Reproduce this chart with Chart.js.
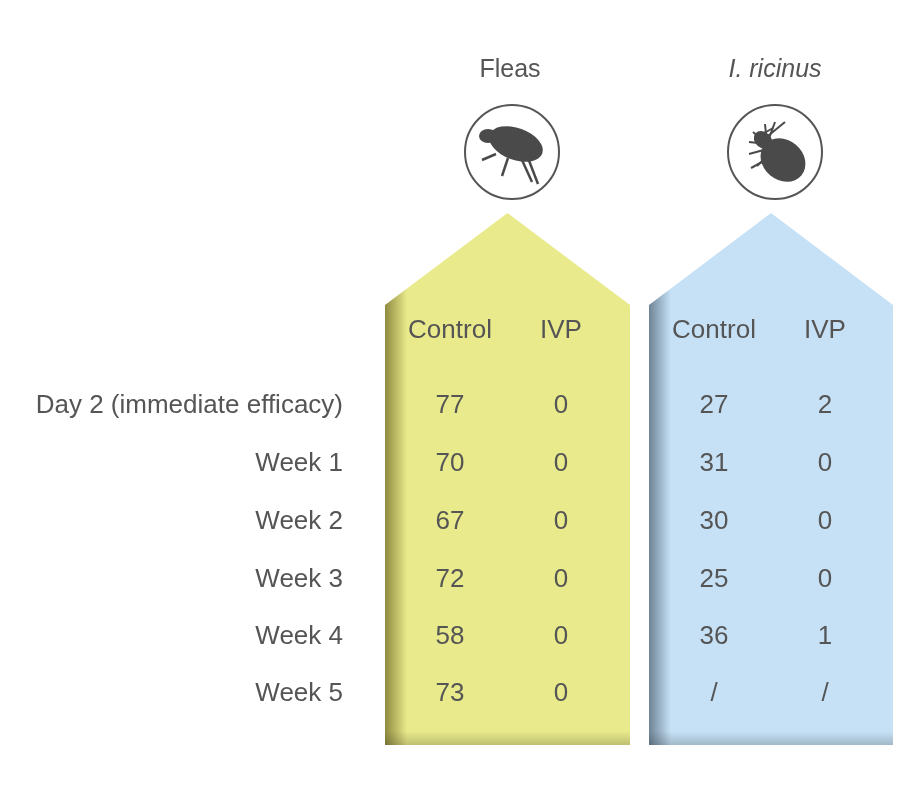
<!DOCTYPE html>
<html>
<head>
<meta charset="utf-8">
<script src="https://cdn.jsdelivr.net/npm/chart.js@4/dist/chart.umd.min.js"></script>
<style>
html,body{margin:0;padding:0;background:#fff;}
#wrap{width:900px;height:800px;}
</style>
</head>
<body>
<div id="wrap"><canvas id="c"></canvas></div>
<script>
// table data
const rowLabels = ['Day 2 (immediate efficacy)', 'Week 1', 'Week 2', 'Week 3', 'Week 4', 'Week 5'];
const fleaControl = [77, 70, 67, 72, 58, 73];
const fleaIVP = [0, 0, 0, 0, 0, 0];
const tickControl = [27, 31, 30, 25, 36, null];
const tickIVP = [2, 0, 0, 0, 1, null];
const groups = ['Fleas', 'I. ricinus'];
const colLabels = ['Control', 'IVP', 'Control', 'IVP'];

// layout in page pixels (scale units = pixels)
const colX = [450, 561, 714, 825];
const rowY = [406, 464, 522, 580, 637, 694];
const series = [fleaControl, fleaIVP, tickControl, tickIVP];

const datasets = series.map((vals, i) => ({
  label: colLabels[i],
  data: vals.map((v, r) => ({x: colX[i], y: rowY[r], v: v})),
  pointRadius: 0
}));

const FONT = '"Liberation Sans", Arial, sans-serif';
const TXT = '#555';

function house(ctx, xs, l, r, peak, shoulder, bottom, base, dark) {
  const pl = xs(l), pr = xs(r), pm = xs((l + r) / 2);
  ctx.save();
  ctx.beginPath();
  ctx.moveTo(pl, bottom);
  ctx.lineTo(pl, shoulder);
  ctx.lineTo(pm, peak);
  ctx.lineTo(pr, shoulder);
  ctx.lineTo(pr, bottom);
  ctx.closePath();
  const g = ctx.createLinearGradient(pl, 0, pl + 22, 0);
  g.addColorStop(0, dark);
  g.addColorStop(1, base);
  ctx.fillStyle = g;
  ctx.fill();
  const g2 = ctx.createLinearGradient(0, bottom - 14, 0, bottom);
  g2.addColorStop(0, 'rgba(0,0,0,0)');
  g2.addColorStop(1, 'rgba(0,0,0,0.18)');
  ctx.fillStyle = g2;
  ctx.fillRect(pl, bottom - 14, pr - pl, 14);
  ctx.restore();
}

function icon(ctx, cx, cy, kind) {
  ctx.save();
  ctx.beginPath();
  ctx.arc(cx, cy, 47, 0, Math.PI * 2);
  ctx.lineWidth = 2;
  ctx.strokeStyle = TXT;
  ctx.fillStyle = '#fff';
  ctx.fill();
  ctx.stroke();
  ctx.fillStyle = '#4a4a4a';
  ctx.strokeStyle = '#4a4a4a';
  ctx.lineWidth = 2.5;
  if (kind === 0) {
    ctx.beginPath();
    ctx.ellipse(cx + 4, cy - 8, 28, 16, 0.35, 0, Math.PI * 2);
    ctx.fill();
    ctx.beginPath();
    ctx.ellipse(cx - 24, cy - 16, 9, 7, 0, 0, Math.PI * 2);
    ctx.fill();
    [[-16, 2, -30, 8], [-4, 6, -10, 24], [10, 8, 20, 30], [16, 6, 26, 32]].forEach(l => {
      ctx.beginPath(); ctx.moveTo(cx + l[0], cy + l[1]); ctx.lineTo(cx + l[2], cy + l[3]); ctx.stroke();
    });
  } else {
    ctx.beginPath();
    ctx.ellipse(cx + 8, cy + 8, 24, 20, 0.7, 0, Math.PI * 2);
    ctx.fill();
    ctx.beginPath();
    ctx.ellipse(cx - 12, cy - 12, 10, 8, 0.7, 0, Math.PI * 2);
    ctx.fill();
    ctx.lineWidth = 2;
    [[-8, -20, -14], [-4, -26, 2], [2, -24, 16], [-16, -2, -24], [-2, -18, 14], [-12, 10, -30]].forEach(l => {
      ctx.beginPath(); ctx.moveTo(cx + l[0], cy + l[0]); ctx.lineTo(cx + l[1], cy + l[2]); ctx.stroke();
    });
    [[-22, -20], [-26, -10], [-10, -28], [0, -30]].forEach(p => {
      ctx.beginPath(); ctx.moveTo(cx - 8, cy - 8); ctx.lineTo(cx + p[0], cy + p[1]); ctx.stroke();
    });
  }
  ctx.restore();
}

const tablePlugin = {
  id: 'tablePlugin',
  beforeDatasetsDraw(chart) {
    const ctx = chart.ctx, xs = v => chart.scales.x.getPixelForValue(v), ys = v => chart.scales.y.getPixelForValue(v);
    house(ctx, xs, 385, 630, ys(213), ys(305), ys(745), '#e9ea8b', '#8f8a40');
    house(ctx, xs, 649, 893, ys(213), ys(305), ys(745), '#c6e1f6', '#6f8496');
  },
  afterDatasetsDraw(chart) {
    const ctx = chart.ctx, xs = v => chart.scales.x.getPixelForValue(v), ys = v => chart.scales.y.getPixelForValue(v);
    ctx.save();
    ctx.fillStyle = TXT;
    ctx.textBaseline = 'middle';
    ctx.textAlign = 'center';
    ctx.font = '25px ' + FONT;
    ctx.fillText(groups[0], xs(510), ys(70));
    ctx.font = 'italic 25px ' + FONT;
    ctx.fillText(groups[1], xs(775), ys(70));
    icon(ctx, xs(512), ys(152), 0);
    icon(ctx, xs(775), ys(152), 1);
    ctx.fillStyle = TXT;
    ctx.font = '26px ' + FONT;
    colLabels.forEach((t, i) => ctx.fillText(t, xs(colX[i]), ys(331)));
    chart.data.datasets.forEach(ds => {
      ds.data.forEach(p => {
        ctx.fillText(p.v === null ? '/' : String(p.v), xs(p.x), ys(p.y));
      });
    });
    ctx.textAlign = 'right';
    rowLabels.forEach((t, r) => ctx.fillText(t, xs(343), ys(rowY[r])));
    ctx.restore();
  }
};

new Chart(document.getElementById('c'), {
  type: 'scatter',
  data: {datasets: datasets},
  options: {
    responsive: true,
    maintainAspectRatio: false,
    animation: false,
    layout: {padding: 0},
    scales: {
      x: {type: 'linear', min: 0, max: 900, display: false},
      y: {type: 'linear', min: 0, max: 800, reverse: true, display: false}
    },
    plugins: {legend: {display: false}, tooltip: {enabled: false}}
  },
  plugins: [tablePlugin]
});
</script>
</body>
</html>
